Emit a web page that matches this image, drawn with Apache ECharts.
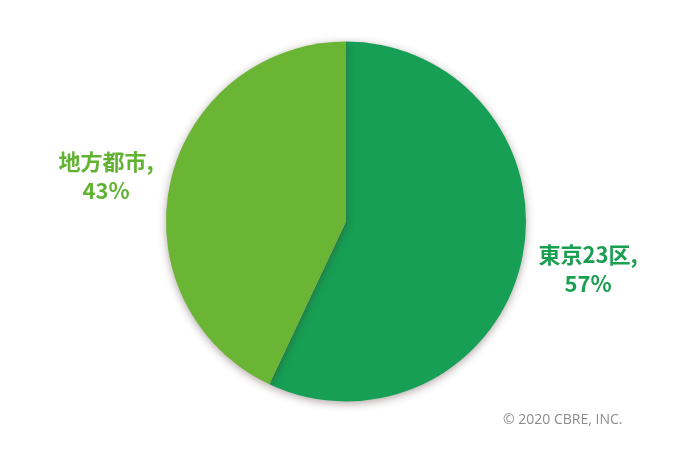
<!DOCTYPE html>
<html>
<head>
<meta charset="utf-8">
<script src="https://cdn.jsdelivr.net/npm/echarts@6/dist/echarts.min.js"></script>
<style>
  html, body { margin: 0; padding: 0; background: #fff; }
  #main { width: 700px; height: 460px; }
</style>
</head>
<body>
<div id="main"></div>
<script>
  // 区域別の比率
  const categories = ['東京23区', '地方都市'];
  const values = [57, 43];
  const colors = ['#179f55', '#6bb534'];
  const labelColors = ['#1a9e50', '#62b333'];
  // ラベルの位置 (中心)
  const labelPos = [[588, 269], [106, 176]];

  const chart = echarts.init(document.getElementById('main'));
  const option = {
    animation: false,
    graphic: [{
      type: 'text',
      left: 503,
      top: 413,
      style: {
        text: '© 2020 CBRE, INC.',
        fill: '#8c8c8c',
        font: '14px "Open Sans", sans-serif'
      }
    }],
    series: [{
      type: 'pie',
      center: [346, 221.5],
      radius: [0, 180],
      startAngle: 90,
      clockwise: true,
      itemStyle: {
        shadowBlur: 9,
        shadowColor: 'rgba(60, 30, 30, 0.4)',
        shadowOffsetX: 0,
        shadowOffsetY: 2
      },
      label: {
        show: true,
        formatter: p => p.name + ',\n' + p.value + '%',
        fontFamily: '"Noto Sans CJK JP", sans-serif',
        fontWeight: 'bold',
        fontSize: 22,
        lineHeight: 29,
        align: 'center'
      },
      labelLine: { show: false },
      labelLayout: p => ({
        x: labelPos[p.dataIndex][0],
        y: labelPos[p.dataIndex][1],
        align: 'center',
        verticalAlign: 'middle'
      }),
      emphasis: { disabled: true },
      data: categories.map((c, i) => ({
        name: c,
        value: values[i],
        itemStyle: { color: colors[i] },
        label: { color: labelColors[i] }
      }))
    }]
  };
  chart.setOption(option);
</script>
</body>
</html>
